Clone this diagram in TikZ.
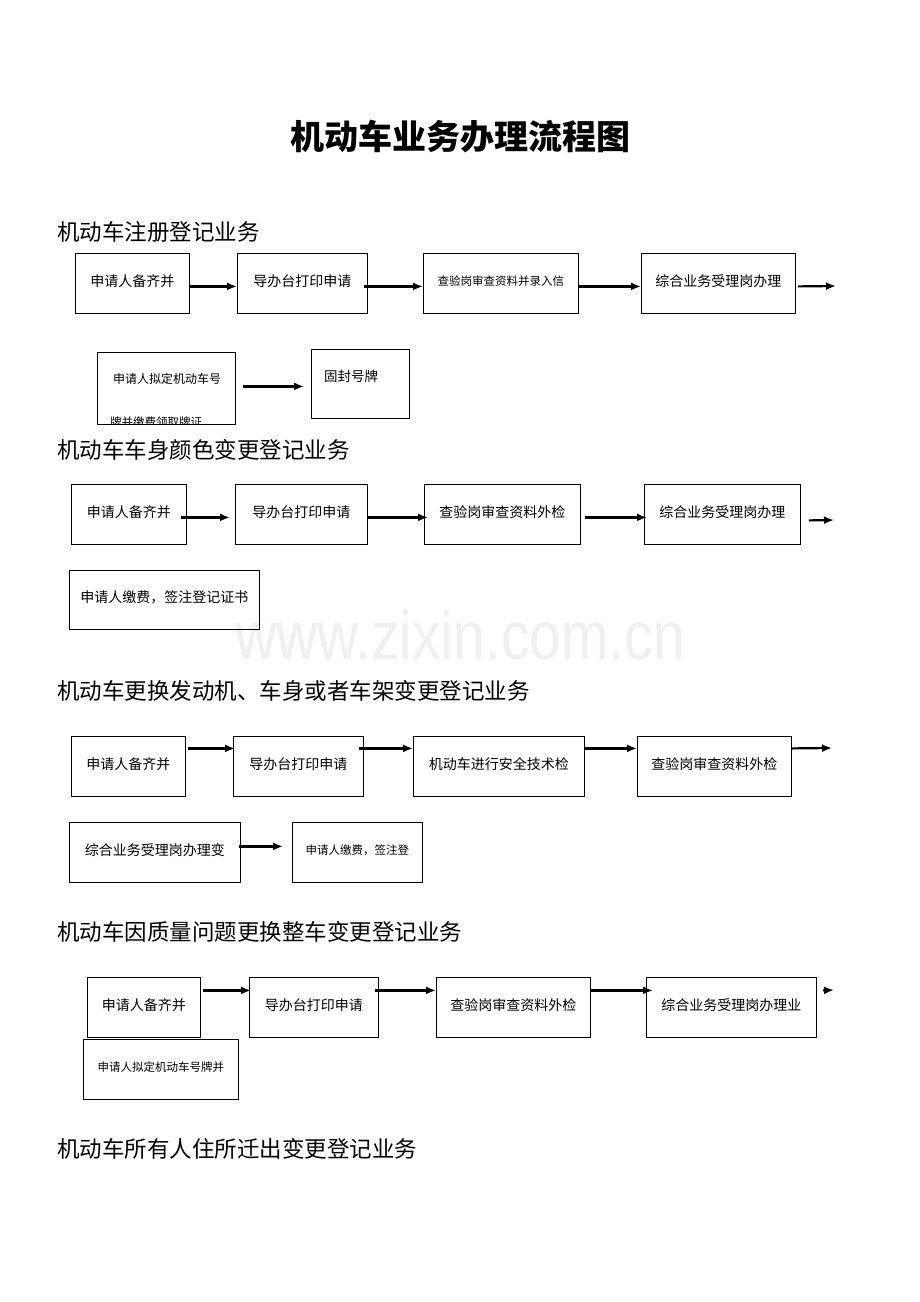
\documentclass[tikz,border=0pt]{standalone}
\usepackage{fontspec}
\setmainfont{Liberation Serif}
\newfontfamily\cjk{Noto Sans CJK SC}
\newfontfamily\wmfont{Liberation Sans}
\usetikzlibrary{arrows.meta}
\begin{document}
\begin{tikzpicture}[x=1pt,y=-1pt,
		box/.style={draw=black, line width=0.8pt, rectangle, minimum height=60, inner sep=0pt, text depth=6pt, font=\cjk\fontsize{14}{16}\selectfont, anchor=north west},
		smalltext/.style={font=\cjk\fontsize{11.5}{13}\selectfont},
		flow/.style={-{Latex[length=10pt,width=8pt]}, line width=2.2pt},
		heading/.style={anchor=west, inner sep=0pt, font=\cjk\fontsize{22.5}{26}\selectfont}]
	\useasboundingbox (0,0) rectangle (920,1302);
	\node[font=\cjk\bfseries\fontsize{34}{38}\selectfont] (title) at (460,137) {机动车业务办理流程图};
	\node[gray!12, font=\wmfont\fontsize{57}{60}\selectfont, yscale=1.2] (wm) at (460,635) {www.zixin.com.cn};

	% 注册登记
	\node[heading] (h1) at (57,232) {机动车注册登记业务};
	\node[box, minimum width=114] (b1) at (75,253) {申请人备齐并};
	\node[box, minimum width=130] (b2) at (237,253) {导办台打印申请};
	\node[box, minimum width=155, smalltext] (b3) at (423,253) {查验岗审查资料并录入信};
	\node[box, minimum width=154] (b4) at (641,253) {综合业务受理岗办理};
	\coordinate (b4end) at (836,286);
	\node[box, minimum width=138, minimum height=72] (b5) at (97,352) {};
	\node[smalltext, font=\cjk\fontsize{12}{14}\selectfont] (b5a) at (167,379) {申请人拟定机动车号};
	\begin{scope}
		\clip (b5.south west) rectangle (b5.north east);
		\node[smalltext, anchor=west, inner sep=0pt] (b5b) at (110,422) {牌并缴费领取牌证};
	\end{scope}
	\node[box, minimum width=98, minimum height=69] (b6) at (311,349) {};
	\node[anchor=west, inner sep=0pt, font=\cjk\fontsize{13.5}{15}\selectfont] (b6a) at (324,376) {固封号牌};
	\coordinate (b5out) at ([xshift=7pt,yshift=2pt]b5.east);
	\draw[flow] ([yshift=-3pt]b1.east) -- ([yshift=-3pt]b2.west);
	\draw[flow] ([xshift=-4pt,yshift=-3pt]b2.east) -- ([yshift=-3pt]b3.west);
	\draw[flow] ([yshift=-3pt]b3.east) -- ([yshift=-3pt]b4.west);
	\draw[flow] ([xshift=2pt,yshift=-3pt]b4.east) -- (b4end);
	\draw[flow] (b5out) -- ([xshift=-7pt]b6.west |- b5out);

	% 车身颜色变更
	\node[heading] (h2) at (57,450) {机动车车身颜色变更登记业务};
	\node[box, minimum width=115] (c1) at (71,484) {申请人备齐并};
	\node[box, minimum width=132] (c2) at (235,484) {导办台打印申请};
	\node[box, minimum width=156] (c3) at (424,484) {查验岗审查资料外检};
	\node[box, minimum width=156] (c4) at (644,484) {综合业务受理岗办理};
	\coordinate (c4end) at (834,520);
	\node[box, minimum width=190, minimum height=59] (c5) at (69,570) {申请人缴费，签注登记证书};
	\draw[flow] ([xshift=-6pt,yshift=-3pt]c1.east) -- ([xshift=-5pt,yshift=-3pt]c2.west);
	\draw[flow] ([yshift=-3pt]c2.east) -- ([xshift=4pt,yshift=-3pt]c3.west);
	\draw[flow] ([xshift=4pt,yshift=-3pt]c3.east) -- ([xshift=3pt,yshift=-3pt]c4.west);
	\draw[flow] ([xshift=8pt,yshift=-6pt]c4.east) -- (c4end);

	% 更换发动机、车身或者车架
	\node[heading] (h3) at (57,691) {机动车更换发动机、车身或者车架变更登记业务};
	\node[box, minimum width=114] (d1) at (71,736) {申请人备齐并};
	\node[box, minimum width=130] (d2) at (233,736) {导办台打印申请};
	\node[box, minimum width=171] (d3) at (413,736) {机动车进行安全技术检};
	\node[box, minimum width=154] (d4) at (637,736) {查验岗审查资料外检};
	\coordinate (d4end) at (832,748);
	\node[box, minimum width=171] (d5) at (69,822) {综合业务受理岗办理变};
	\node[box, minimum width=130, smalltext] (d6) at (292,822) {申请人缴费，签注登};
	\draw[flow] ([xshift=2pt,yshift=18pt]d1.east) -- ([xshift=2pt,yshift=18pt]d2.west);
	\draw[flow] ([xshift=-5pt,yshift=18pt]d2.east) -- ([yshift=18pt]d3.west);
	\draw[flow] ([yshift=18pt]d3.east) -- ([yshift=18pt]d4.west);
	\draw[flow] ([yshift=18pt]d4.east) -- (d4end);
	\draw[flow] ([xshift=-2pt,yshift=6pt]d5.east) -- ([xshift=-9pt,yshift=6pt]d6.west);

	% 质量问题更换整车
	\node[heading] (h4) at (57,932) {机动车因质量问题更换整车变更登记业务};
	\node[box, minimum width=113] (e1) at (87,977) {申请人备齐并};
	\node[box, minimum width=129] (e2) at (249,977) {导办台打印申请};
	\node[box, minimum width=154] (e3) at (436,977) {查验岗审查资料外检};
	\node[box, minimum width=170] (e4) at (646,977) {综合业务受理岗办理业};
	\coordinate (e4end) at (834,990);
	\node[box, minimum width=155, smalltext] (e5) at (83,1039) {申请人拟定机动车号牌并};
	\draw[flow] ([xshift=2pt,yshift=17pt]e1.east) -- ([xshift=2pt,yshift=17pt]e2.west);
	\draw[flow] ([xshift=-4pt,yshift=17pt]e2.east) -- ([yshift=17pt]e3.west);
	\draw[flow] ([yshift=17pt]e3.east) -- ([xshift=7pt,yshift=17pt]e4.west);
	\draw[flow] ([xshift=6pt,yshift=17pt]e4.east) -- (e4end);

	% 住所迁出
	\node[heading] (h5) at (57,1149) {机动车所有人住所迁出变更登记业务};
\end{tikzpicture}
\end{document}
